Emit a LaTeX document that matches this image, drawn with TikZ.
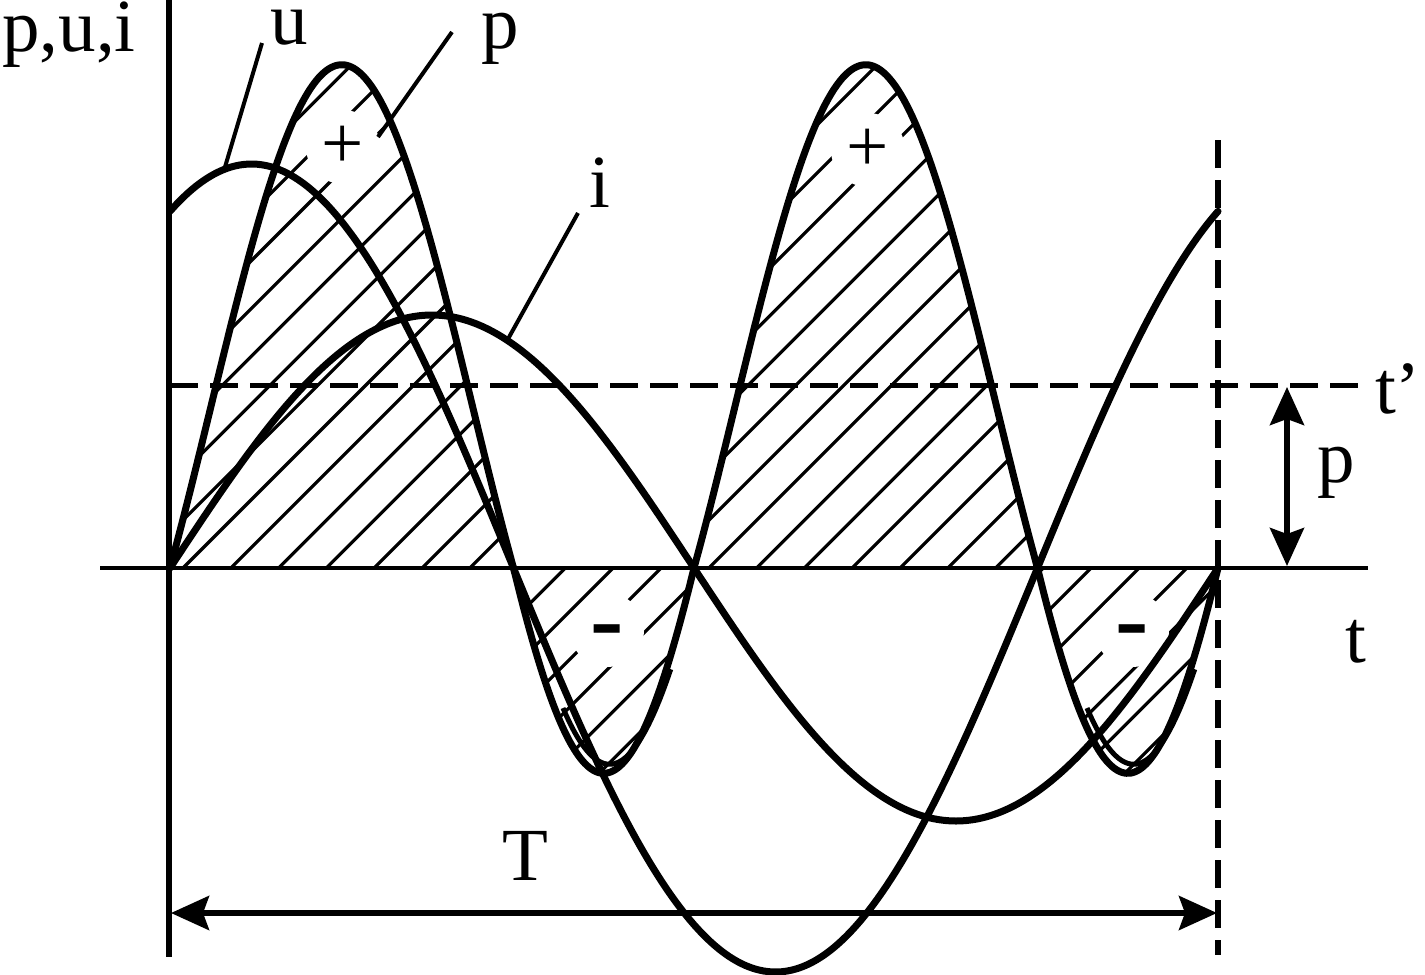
\documentclass[tikz,border=0pt]{standalone}
\usepackage{fontspec}
\setmainfont{Liberation Serif}
\usetikzlibrary{arrows.meta}
\begin{document}
\begin{tikzpicture}[x=1pt,y=-1pt,
  declare function={
    px(\t)=170+2.911111*\t;
    uu(\t)=568-404*sin(\t+62);
    ii(\t)=568-253*sin(\t);
    pf(\t)=685*sin(\t)*sin(\t+62);
    pp(\t)=568-(max(pf(\t),0)+1.13*min(pf(\t),0));
    pq(\t)=568-1.08*min(pf(\t-2),0);
  },
  curve/.style={line width=7pt, line join=round, line cap=round},
  axisline/.style={line width=4.5pt},
  hatchline/.style={line width=3.2pt},
  dashline/.style={line width=5pt, dash pattern=on 28pt off 12pt},
  leader/.style={line width=4pt},
  dimarrow/.style={line width=5.5pt, {Stealth[length=38pt,width=34pt,inset=6pt]}-{Stealth[length=38pt,width=34pt,inset=6pt]}},
  lbl/.style={font=\fontsize{75}{90}\selectfont, inner sep=0pt, anchor=base},
  sign/.style={font=\fontsize{75}{90}\selectfont, inner sep=0pt},
  minus/.style={font=\fontsize{100}{110}\selectfont\bfseries, inner sep=0pt, anchor=base},
  blank/.style={circle, fill=white, minimum size=74pt, inner sep=0pt}
]
\useasboundingbox (0,0) rectangle (1425,975);
% hatching of p areas
\begin{scope}
  \clip plot[domain=0:360,samples=241] ({px(\x)},{pp(\x)}) -- cycle;
  \foreach \k in {-12,...,27}
    \draw[hatchline] ({183+47.8*\k-700},1268) -- ({183+47.8*\k+700},-132);
\end{scope}
% blank spots for sign labels
\node[blank] (b1) at (343,147) {};
\node[blank] (b2) at (868,150) {};
\node[blank] (b3) at (607,630) {};
\node[blank] (b4) at (1132,630) {};
% axes
\coordinate (ax0) at (100,568);
\coordinate (ax1) at (1368,568);
\coordinate (ay0) at (169,0);
\coordinate (ay1) at (169,957);
\draw[axisline] (ax0) -- (ax1);
\draw[line width=6pt] (ay0) -- (ay1);
% dashed lines
\coordinate (tp0) at (170,385);
\coordinate (tp1) at (1368,385);
\coordinate (vT0) at (1218,140);
\coordinate (vT1) at (1218,955);
\draw[dashline] (tp0) -- (tp1);
\draw[dashline, line width=6pt] (vT0) -- (vT1);
% curves
\draw[curve] plot[domain=0:360,samples=241,smooth] ({px(\x)},{uu(\x)});
\draw[curve] plot[domain=0:360,samples=241,smooth] ({px(\x)},{ii(\x)});
\draw[curve] plot[domain=0:360,samples=241,smooth] ({px(\x)},{pp(\x)});
% doubled stroke of p in its negative loops
\draw[line width=5pt] plot[domain=135:172,samples=60,smooth] ({px(\x)},{pq(\x)});
\draw[line width=5pt] plot[domain=315:352,samples=60,smooth] ({px(\x)},{pq(\x)});
% labels
\node[lbl] (lpui) at (69,51) {p,u,i};
\node[lbl] (lu) at (289,44) {u};
\node[lbl] (lp) at (500,48) {p};
\node[lbl] (li) at (600,207) {i};
\node[lbl] (lT) at (525,880) {T};
\node[lbl] (ltp) at (1398,413) {t’};
\node[lbl] (lpr) at (1336,482) {p};
\node[lbl] (lt) at (1356,662) {t};
\node[sign] (s1) at (b1) {+};
\node[sign] (s2) at (b2) {+};
\node[minus] (s3) at (607,652) {-};
\node[minus] (s4) at (1132,652) {-};
% leaders
\coordinate (lu0) at (262,43);
\coordinate (lu1) at (225,167);
\coordinate (lp0) at (452,32);
\coordinate (lp1) at (378,137);
\coordinate (li0) at (578,213);
\coordinate (li1) at (508,339);
\draw[leader] (lu0) -- (lu1);
\draw[leader] (lp0) -- (lp1);
\draw[leader] (li0) -- (li1);
% dimension arrows
\coordinate (Ta) at (171,913);
\coordinate (Tb) at (1217,913);
\draw[dimarrow] (Ta) -- (Tb);
\coordinate (pa) at (1287,387);
\coordinate (pb) at (1287,566);
\draw[dimarrow] (pa) -- (pb);
\end{tikzpicture}
\end{document}
